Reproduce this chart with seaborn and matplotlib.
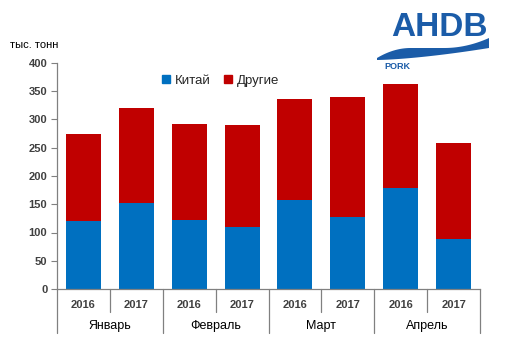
import numpy as np
import pandas as pd
import seaborn as sns
import matplotlib.pyplot as plt
from matplotlib.patches import Polygon, Patch
from matplotlib.transforms import blended_transform_factory

months = ["Январь", "Февраль", "Март", "Апрель"]
years = ["2016", "2017"]
china = [121, 152, 123, 109, 157, 127, 179, 88]
total = [274, 321, 292, 290, 336, 339, 363, 259]

labels = [f"{m} {y}" for m in months for y in years]
df = pd.DataFrame({"period": labels, "china": china, "total": total})

sns.set_theme(style="white")
plt.rcParams['font.family'] = ['Liberation Sans', 'DejaVu Sans']

fig = plt.figure(figsize=(5.08, 3.64), dpi=100)
ax = fig.add_axes([57 / 508, 1 - 289 / 364, (480 - 57) / 508, 226 / 364])

sns.barplot(data=df, x="period", y="total", color="#C00000", width=0.66,
            saturation=1, linewidth=0, ax=ax, order=labels)
sns.barplot(data=df, x="period", y="china", color="#0070C0", width=0.66,
            saturation=1, linewidth=0, ax=ax, order=labels)

ax.set_xlim(-0.5, 7.5)
ax.set_ylim(0, 400)
ax.set_yticks(range(0, 401, 50))
ax.tick_params(axis="y", direction="out", length=4, width=0.8, color="#808080",
               labelsize=8, labelcolor="#404040", pad=3, left=True)
for t in ax.get_yticklabels():
    t.set_fontweight("bold")
ax.set_xticks([])
ax.set_xlabel("")
ax.set_ylabel("")
for s in ["top", "right"]:
    ax.spines[s].set_visible(False)
for s in ["left", "bottom"]:
    ax.spines[s].set_color("#808080")
    ax.spines[s].set_linewidth(0.9)

# multi-level category axis
tr = blended_transform_factory(ax.transData, ax.transAxes)
for i, lab in enumerate(labels):
    ax.text(i, -0.07, lab.split()[1], transform=tr, ha="center", va="center",
            fontsize=8, fontweight="bold", color="#404040")
for x in [0.5, 2.5, 4.5, 6.5]:
    ax.plot([x, x], [0, -0.1], transform=tr, color="#808080", lw=0.9, clip_on=False)
for x in [-0.5, 1.5, 3.5, 5.5, 7.5]:
    ax.plot([x, x], [0, -0.195], transform=tr, color="#808080", lw=0.9, clip_on=False)
for j, m in enumerate(months):
    ax.text(2 * j + 0.5, -0.165, m, transform=tr, ha="center", va="center",
            fontsize=9, color="black")

ax.text(-0.11, 1.08, "тыс. тонн", transform=ax.transAxes, fontsize=8,
        color="black", ha="left", va="center")

handles = [Patch(color="#0070C0"), Patch(color="#C00000")]
ax.legend(handles, ["Китай", "Другие"], loc="upper left",
          bbox_to_anchor=(0.22, 1.0), ncol=2, frameon=False, fontsize=9.5,
          handlelength=0.6, handleheight=0.6, handletextpad=0.4,
          columnspacing=1.0)

# AHDB logo
logo = "#1B5CA8"
fig.text(439 / 508, 1 - 27.5 / 364, "AHDB", ha="center", va="center",
         fontsize=24, fontweight="bold", color=logo)
tt = np.linspace(0, 1, 100)
xs = 377 + 112 * tt
top = np.where(tt < 0.3, 48 + 10 * (1 - tt / 0.3) ** 2,
               np.where(tt > 0.6, 48 - 10 * ((tt - 0.6) / 0.4) ** 2, 48))
bot = 60 - 12 * tt ** 1.5
pts = np.column_stack([np.r_[xs, xs[::-1]], np.r_[top, bot[::-1]]])
pts[:, 0] /= 508
pts[:, 1] = 1 - pts[:, 1] / 364
fig.add_artist(Polygon(pts, closed=True, color=logo, lw=0, transform=fig.transFigure))
fig.text(384 / 508, 1 - 66.5 / 364, "PORK", ha="left", va="center",
         fontsize=6.5, fontweight="bold", color=logo)

fig.savefig("out.png", dpi=100)
